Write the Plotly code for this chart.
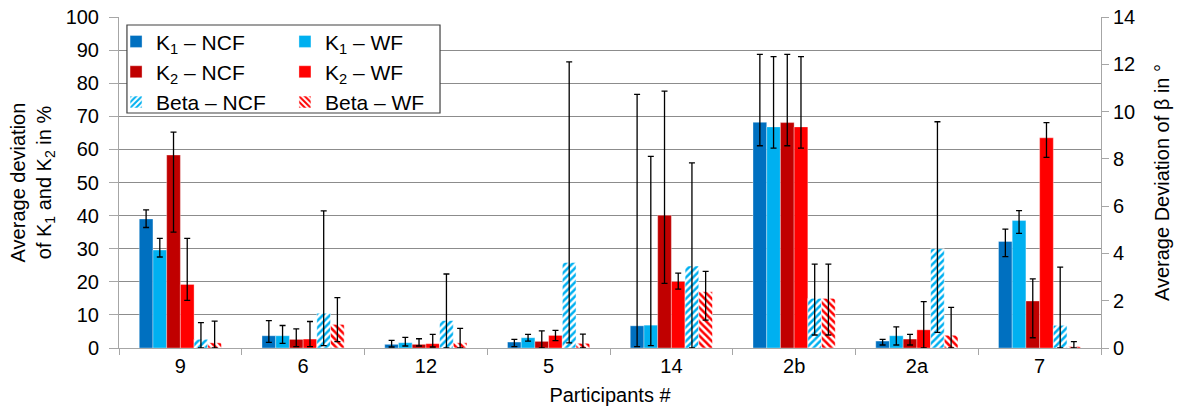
import plotly.graph_objects as go

categories = ["9", "6", "12", "5", "14", "2b", "2a", "7"]

# K values in %, error bar endpoints (upper / lower)
k1_ncf = [39.0, 3.7, 1.1, 1.8, 6.7, 68.2, 2.1, 32.2]
k1_ncf_hi = [41.7, 8.3, 2.3, 2.6, 76.6, 88.7, 2.6, 35.9]
k1_ncf_lo = [36.4, 1.7, 0.3, 0.4, 0.4, 61.1, 0.9, 27.6]

k1_wf = [29.6, 3.7, 1.6, 3.1, 6.9, 66.8, 3.7, 38.5]
k1_wf_hi = [33.1, 6.8, 3.2, 4.1, 57.9, 88.0, 6.4, 41.5]
k1_wf_lo = [27.5, 1.4, 0.6, 2.1, 0.7, 60.4, 0.9, 34.6]

k2_ncf = [58.3, 2.6, 1.1, 2.0, 40.1, 68.1, 2.7, 14.2]
k2_ncf_hi = [65.2, 5.8, 2.8, 5.2, 77.6, 88.7, 4.1, 20.9]
k2_ncf_lo = [35.0, 0.4, 0.6, 0.0, 19.5, 61.1, 0.9, 3.1]

k2_wf = [19.2, 2.7, 1.3, 3.8, 20.1, 66.8, 5.5, 63.5]
k2_wf_hi = [33.1, 8.0, 4.1, 5.3, 22.6, 88.0, 14.0, 68.1]
k2_wf_lo = [14.4, 0.4, 0.3, 2.2, 17.8, 60.4, 0.0, 57.6]

# Beta in degrees (right axis)
beta_ncf = [0.37, 1.47, 1.16, 3.62, 3.47, 2.10, 4.20, 0.96]
beta_ncf_hi = [1.07, 5.80, 3.13, 12.10, 7.83, 3.55, 9.57, 3.42]
beta_ncf_lo = [0.0, 0.10, 0.0, 0.22, 0.0, 0.55, 0.66, 0.0]

beta_wf = [0.22, 1.00, 0.22, 0.20, 2.38, 2.10, 0.54, 0.06]
beta_wf_hi = [1.14, 2.13, 0.83, 0.59, 3.24, 3.55, 1.72, 0.27]
beta_wf_lo = [0.0, 0.27, 0.0, 0.0, 1.18, 0.55, 0.0, 0.0]

FONT = "Liberation Sans, Arial, sans-serif"

series = [
    ("K<sub>1</sub> – NCF", k1_ncf, k1_ncf_hi, k1_ncf_lo, "#0070C0", None, "y", "legend"),
    ("K<sub>1</sub> – WF", k1_wf, k1_wf_hi, k1_wf_lo, "#00B0F0", None, "y", "legend2"),
    ("K<sub>2</sub> – NCF", k2_ncf, k2_ncf_hi, k2_ncf_lo, "#C00000", None, "y", "legend"),
    ("K<sub>2</sub> – WF", k2_wf, k2_wf_hi, k2_wf_lo, "#FF0000", None, "y", "legend2"),
    ("Beta – NCF", beta_ncf, beta_ncf_hi, beta_ncf_lo, "#00B0F0", "/", "y2", "legend"),
    ("Beta – WF", beta_wf, beta_wf_hi, beta_wf_lo, "#FF0000", "\\", "y2", "legend2"),
]

fig = go.Figure()
for i, (name, vals, hi, lo, color, pat, yax, leg) in enumerate(series):
    plus = [h - v for h, v in zip(hi, vals)]
    minus = [max(v - l, 0) for v, l in zip(vals, lo)]
    if pat:
        marker = dict(color="white",
                      pattern=dict(shape=pat, fgcolor=color, bgcolor="white",
                                   size=5, solidity=0.5, fillmode="replace"),
                      line=dict(color="rgba(255,255,255,0.5)", width=1))
    else:
        marker = dict(color=color, line=dict(color="rgba(255,255,255,0.35)", width=1))
    fig.add_trace(go.Bar(
        x=categories, y=vals, name=name, yaxis=yax, legend=leg,
        marker=marker,
        offsetgroup=str(i), alignmentgroup="all",
        error_y=dict(type="data", symmetric=False, array=plus, arrayminus=minus,
                     color="black", thickness=1.3, width=3),
    ))

fig.update_layout(
    width=1185, height=412,
    margin=dict(l=119, r=84, t=17, b=64, autoexpand=False),
    paper_bgcolor="white", plot_bgcolor="white",
    barmode="group", bargap=0.33, bargroupgap=0,
    font=dict(family=FONT, size=20, color="black"),
    xaxis=dict(
        type="category", showline=True, linecolor="#A6A6A6", linewidth=1,
        ticks="outside", tickson="boundaries", ticklen=6, tickcolor="#A6A6A6",
        tickfont=dict(size=20, family=FONT), automargin=False,
        title=dict(text="Participants #", font=dict(size=20, family=FONT), standoff=11),
    ),
    yaxis=dict(
        range=[0, 100], dtick=10, showgrid=True, gridcolor="#8C8C8C", gridwidth=1,
        showline=True, linecolor="#A6A6A6", linewidth=1,
        ticks="outside", ticklen=9, tickcolor="#A6A6A6", ticklabelstandoff=6,
        tickfont=dict(size=20, family=FONT), zeroline=False, automargin=False,
        title=dict(text="Average deviation<br>of K<sub>1</sub> and K<sub>2</sub> in %",
                   font=dict(size=20, family=FONT), standoff=8),
    ),
    yaxis2=dict(
        range=[0, 14], dtick=2, overlaying="y", side="right", showgrid=False,
        showline=True, linecolor="#A6A6A6", linewidth=1,
        ticks="outside", ticklen=7, tickcolor="#A6A6A6",
        tickfont=dict(size=20, family=FONT), zeroline=False, automargin=False,
        title=dict(text="Average Deviation of β in °", font=dict(size=20, family=FONT),
                   standoff=20),
    ),
    legend=dict(x=-0.003, y=0.987, xanchor="left", yanchor="top",
                bgcolor="rgba(0,0,0,0)", font=dict(size=21, family=FONT),
                itemwidth=30, tracegroupgap=0, traceorder="normal"),
    legend2=dict(x=0.169, y=0.987, xanchor="left", yanchor="top",
                 bgcolor="rgba(0,0,0,0)", font=dict(size=21, family=FONT),
                 itemwidth=30, tracegroupgap=0, traceorder="normal"),
    shapes=[dict(type="rect", xref="paper", yref="paper",
                 x0=0.0081, x1=0.3269, y0=0.71, y1=0.9758,
                 line=dict(color="#404040", width=1.2), fillcolor="white",
                 layer="above")],
)

fig.write_html("out.html", config={"displayModeBar": False},
               post_script="document.body.style.margin='0';")
